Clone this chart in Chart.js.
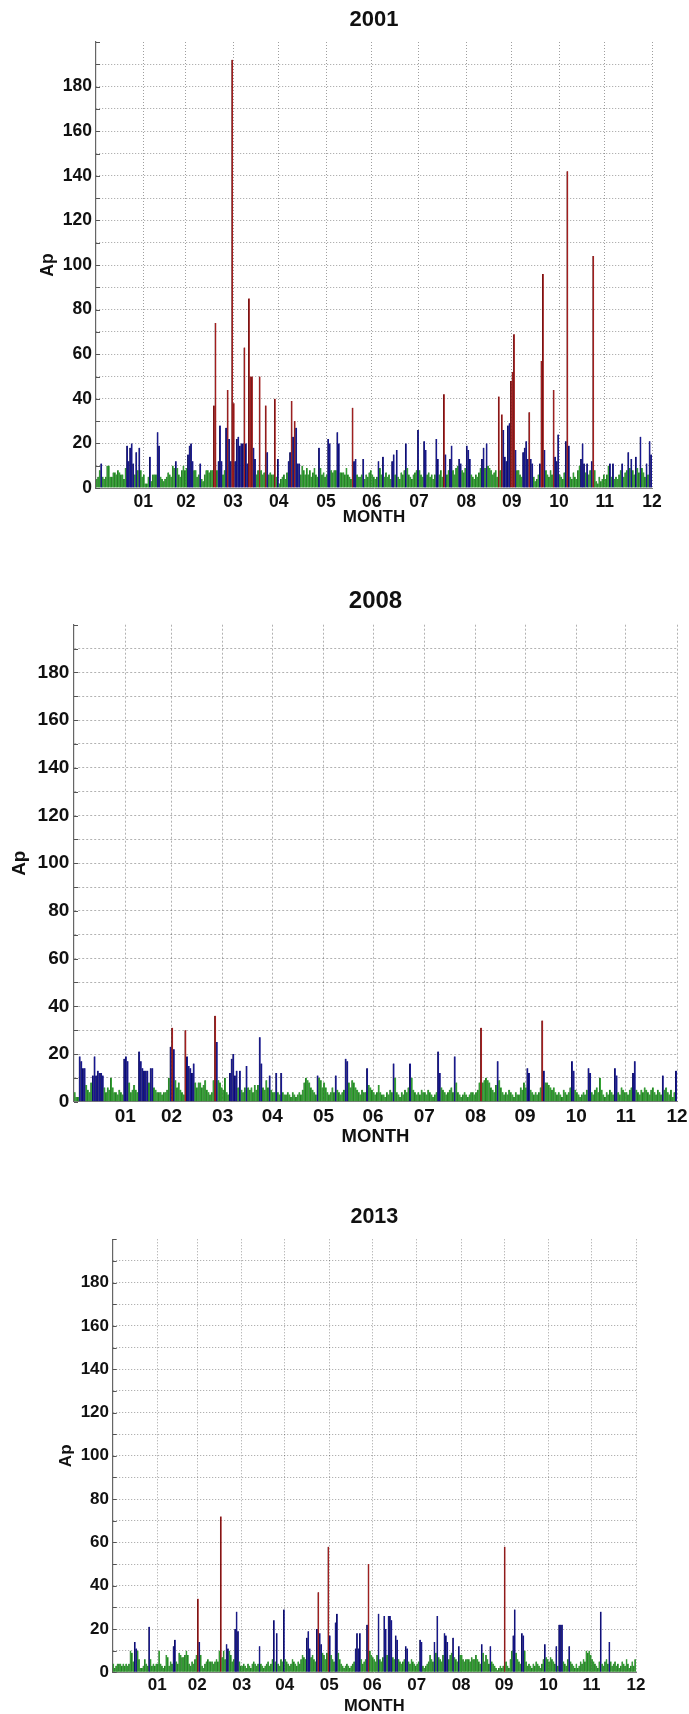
<!DOCTYPE html>
<html>
<head>
<meta charset="utf-8">
<title>Daily Ap 2001 / 2008 / 2013</title>
<script src="https://cdn.jsdelivr.net/npm/chart.js@4.4.1/dist/chart.umd.min.js"></script>
<style>
  html, body { margin: 0; padding: 0; background: #fff; }
  body { width: 689px; height: 1714px; position: relative; overflow: hidden; }
  canvas { position: absolute; left: 0; }
</style>
</head>
<body>
<canvas id="chart2001" width="689" height="530" style="top:0px"></canvas>
<canvas id="chart2008" width="689" height="590" style="top:560px"></canvas>
<canvas id="chart2013" width="689" height="544" style="top:1170px"></canvas>
<script>
// daily Ap index, Jan 1 .. Dec 31, one line per month
const ap2001 = [
  4, 5, 8, 11, 5, 4, 5, 10, 10, 5, 5, 7, 7, 6, 8, 7, 6, 6, 4, 9, 19, 12, 18, 20, 11, 6, 16, 8, 18, 8, 5,
  6, 2, 2, 5, 14, 3, 6, 6, 6, 25, 19, 5, 4, 3, 4, 5, 7, 6, 5, 10, 9, 12, 9, 6, 5, 8, 10, 8,
  9, 15, 19, 20, 12, 8, 8, 5, 6, 11, 4, 3, 6, 8, 8, 7, 8, 8, 37, 74, 8, 12, 28, 12, 6, 8, 27, 44, 22, 12, 192,
  38, 12, 22, 23, 19, 20, 20, 63, 20, 11, 85, 50, 50, 18, 13, 6, 8, 50, 8, 6, 7, 37, 16, 6, 7, 6, 6, 40, 5, 13,
  2, 4, 5, 6, 4, 7, 12, 16, 39, 23, 30, 27, 11, 11, 6, 10, 8, 6, 9, 6, 8, 5, 7, 9, 6, 5, 18, 9, 6, 7, 5,
  6, 22, 20, 8, 7, 8, 8, 25, 20, 7, 7, 7, 6, 9, 6, 5, 4, 36, 12, 13, 6, 5, 5, 6, 13, 4, 6, 5, 7, 8,
  6, 5, 4, 5, 12, 9, 6, 14, 5, 7, 5, 6, 4, 12, 15, 6, 17, 5, 4, 7, 6, 8, 20, 9, 6, 5, 4, 6, 7, 8, 26,
  8, 6, 5, 21, 17, 6, 7, 5, 6, 4, 6, 22, 13, 6, 8, 5, 42, 15, 6, 8, 13, 19, 8, 6, 9, 10, 13, 11, 8, 7, 9,
  19, 17, 13, 6, 5, 4, 6, 5, 7, 9, 13, 18, 9, 20, 10, 9, 8, 6, 7, 8, 5, 41, 8, 33, 26, 14, 12, 28, 29, 48,
  52, 69, 17, 8, 8, 6, 5, 16, 18, 21, 13, 34, 13, 11, 5, 3, 4, 6, 11, 57, 96, 17, 8, 6, 5, 8, 6, 44, 14, 12, 24,
  6, 5, 4, 7, 21, 142, 19, 5, 4, 7, 5, 4, 8, 10, 13, 20, 11, 7, 11, 6, 8, 12, 104, 8, 3, 2, 5, 3, 4, 6,
  4, 6, 10, 11, 5, 11, 4, 5, 4, 6, 8, 11, 5, 7, 8, 16, 9, 13, 8, 6, 14, 9, 7, 23, 9, 7, 5, 11, 6, 21, 15
]

const ap2008 = [
  4, 2, 2, 19, 17, 14, 14, 7, 5, 4, 8, 11, 19, 11, 13, 12, 12, 11, 6, 4, 6, 5, 10, 6, 4, 4, 3, 5, 4, 3, 18,
  19, 17, 8, 4, 5, 7, 5, 4, 21, 17, 14, 13, 13, 13, 8, 14, 14, 6, 5, 4, 4, 4, 3, 4, 4, 5, 10, 23,
  31, 22, 9, 6, 8, 5, 4, 3, 30, 19, 15, 14, 12, 16, 8, 6, 8, 8, 6, 7, 9, 5, 4, 3, 4, 9, 36, 25, 9, 8, 6,
  5, 10, 4, 3, 12, 18, 20, 11, 13, 6, 13, 5, 4, 6, 15, 6, 5, 6, 4, 7, 5, 7, 27, 16, 6, 5, 9, 6, 11, 5,
  4, 4, 12, 4, 3, 12, 4, 3, 3, 4, 3, 2, 4, 3, 2, 3, 4, 3, 5, 8, 10, 9, 8, 6, 5, 4, 3, 11, 10, 9, 6,
  8, 6, 4, 3, 4, 6, 4, 11, 5, 4, 3, 4, 5, 18, 17, 8, 6, 9, 8, 6, 5, 4, 3, 5, 4, 4, 14, 7, 6, 5,
  4, 3, 4, 7, 4, 3, 3, 2, 4, 3, 5, 4, 16, 10, 4, 3, 2, 4, 3, 5, 4, 6, 16, 10, 5, 4, 3, 4, 3, 5, 4,
  4, 3, 5, 4, 3, 2, 3, 4, 21, 12, 6, 5, 4, 3, 4, 5, 6, 4, 19, 8, 4, 3, 2, 3, 4, 3, 2, 3, 4, 4, 3,
  4, 5, 8, 31, 8, 9, 10, 9, 8, 6, 5, 4, 7, 17, 9, 6, 4, 3, 4, 3, 5, 4, 3, 2, 4, 3, 3, 6, 5, 8,
  6, 14, 12, 5, 4, 3, 4, 3, 4, 6, 34, 13, 8, 8, 7, 6, 5, 6, 4, 3, 4, 3, 2, 5, 4, 3, 4, 6, 17, 13, 5,
  4, 3, 2, 3, 4, 3, 5, 14, 12, 4, 3, 5, 6, 4, 10, 5, 3, 2, 4, 3, 5, 4, 3, 14, 11, 4, 3, 6, 5, 4,
  4, 3, 5, 6, 12, 17, 5, 4, 3, 5, 4, 6, 5, 4, 3, 5, 6, 4, 3, 5, 4, 3, 11, 5, 6, 4, 3, 5, 2, 4, 13
]

const ap2013 = [
  4, 2, 3, 4, 4, 4, 3, 4, 3, 4, 3, 4, 10, 9, 5, 14, 11, 10, 6, 2, 2, 3, 6, 4, 3, 21, 6, 3, 4, 3, 4,
  4, 10, 4, 3, 2, 3, 8, 7, 3, 5, 4, 12, 15, 5, 4, 9, 8, 7, 7, 8, 10, 8, 4, 3, 5, 4, 6, 8,
  34, 14, 8, 3, 2, 4, 5, 6, 5, 5, 5, 4, 5, 6, 5, 10, 72, 7, 10, 6, 13, 11, 10, 8, 5, 6, 20, 28, 19, 5, 3,
  3, 4, 3, 2, 4, 3, 2, 4, 5, 4, 3, 4, 12, 4, 3, 2, 3, 4, 5, 3, 4, 6, 24, 5, 18, 4, 3, 6, 5, 29,
  6, 5, 4, 3, 4, 6, 5, 4, 3, 5, 4, 6, 8, 7, 6, 16, 19, 11, 7, 8, 6, 5, 20, 37, 18, 13, 9, 8, 6, 9, 58,
  17, 8, 6, 5, 23, 27, 9, 6, 4, 3, 2, 3, 4, 3, 2, 3, 4, 5, 11, 18, 11, 18, 6, 4, 5, 6, 22, 50, 10, 8,
  7, 6, 5, 8, 27, 6, 5, 7, 26, 20, 8, 26, 26, 24, 7, 6, 17, 15, 6, 5, 4, 5, 6, 12, 11, 5, 4, 6, 5, 4, 3,
  4, 5, 15, 14, 3, 2, 3, 4, 5, 8, 6, 5, 14, 9, 26, 7, 6, 5, 8, 18, 17, 14, 6, 8, 9, 16, 7, 6, 5, 12, 8,
  8, 6, 5, 6, 6, 6, 5, 7, 6, 6, 8, 6, 5, 4, 13, 9, 5, 8, 6, 4, 12, 5, 4, 3, 2, 1, 2, 3, 2, 3,
  58, 5, 3, 2, 6, 10, 17, 29, 9, 6, 5, 4, 18, 17, 10, 5, 3, 4, 3, 2, 4, 3, 5, 4, 3, 2, 4, 6, 13, 7, 6,
  5, 7, 6, 5, 4, 12, 3, 22, 22, 22, 5, 4, 3, 6, 12, 5, 4, 3, 2, 4, 2, 3, 5, 4, 6, 5, 10, 9, 10, 8,
  6, 5, 4, 3, 2, 5, 28, 4, 3, 5, 6, 4, 14, 5, 3, 4, 5, 3, 4, 2, 3, 5, 4, 3, 6, 4, 2, 3, 5, 3, 6
]

// x ticks sit at the end of each month (day of year)
const monthEnds = [31, 59, 90, 120, 151, 181, 212, 243, 273, 304, 334, 365]
const monthLabels = ['01', '02', '03', '04', '05', '06', '07', '08', '09', '10', '11', '12']

// y grid every 10, labels every 20
const apGrid = [0, 10, 20, 30, 40, 50, 60, 70, 80, 90, 100, 110, 120, 130, 140, 150, 160, 170, 180, 190, 200]
const apLabels = ['0', '', '20', '', '40', '', '60', '', '80', '', '100', '', '120', '', '140', '', '160', '', '180', '', '']

const FONT = "'Liberation Sans', Arial, Helvetica, sans-serif"

function barColor (value) {
  if (value >= 30) return '#a31e1e' // storm
  if (value > 10) return '#17178f'  // active
  return '#33a133'                  // quiet
}

function edgeColor (value) {
  if (value >= 30) return '#4a0c0c'
  if (value > 10) return '#05053d'
  return '#1b5a1b'
}

// small ticks pointing into the plot on the Ap axis
const inwardTicks = {
  id: 'inwardTicks',
  beforeDatasetsDraw (chart) {
    const { ctx, chartArea, scales: { y } } = chart
    ctx.save()
    ctx.strokeStyle = '#555'
    ctx.lineWidth = 1
    ctx.beginPath()
    for (const tick of y.ticks) {
      const py = Math.round(y.getPixelForValue(tick.value)) + 0.5
      ctx.moveTo(chartArea.left, py)
      ctx.lineTo(chartArea.left + 4, py)
    }
    ctx.stroke()
    ctx.restore()
  }
}

function drawYear (canvasId, year, values, box) {
  const ctx = document.getElementById(canvasId).getContext('2d')
  const gridColor = (c) => {
    if (c.tick && (c.tick.value === 0 || c.tick.value === 200)) return 'rgba(0,0,0,0)'
    return box.gridColor
  }

  return new Chart(ctx, {
    type: 'bar',
    data: {
      datasets: [{
        data: values.map((v, i) => ({ x: i + 0.5, y: v })),
        backgroundColor: values.map(barColor),
        borderColor: values.map(edgeColor),
        borderWidth: { left: 0.5, right: 0, top: 0, bottom: 0 },
        borderSkipped: false,
        barPercentage: 1,
        categoryPercentage: 1
      }]
    },
    plugins: [inwardTicks],
    options: {
      responsive: false,
      animation: false,
      events: [],
      layout: { padding: { left: 0, top: 0, right: box.padRight, bottom: 0 } },
      plugins: {
        legend: { display: false },
        tooltip: { enabled: false },
        title: {
          display: true,
          text: year,
          fullSize: false,
          color: '#111',
          font: { family: FONT, size: box.titleSize, weight: 'bold', lineHeight: 1.2 },
          padding: { top: box.titleTop, bottom: box.titleBottom }
        }
      },
      scales: {
        x: {
          type: 'linear',
          min: 0,
          max: 365,
          offset: false,
          grid: { offset: false, color: gridColor, lineWidth: 1, drawTicks: false },
          border: { display: true, color: '#808080', width: 1, dash: box.dash },
          afterBuildTicks: (axis) => { axis.ticks = monthEnds.map((value) => ({ value })) },
          afterFit: (axis) => {
            axis.height = box.xHeight
            axis.paddingLeft = 0
            axis.paddingRight = 0
          },
          ticks: {
            autoSkip: false,
            maxRotation: 0,
            minRotation: 0,
            padding: box.xTickPad,
            color: '#111',
            font: { family: FONT, size: box.tickSize, weight: 'bold', lineHeight: 1.2 },
            callback: (value, index) => monthLabels[index]
          },
          title: {
            display: true,
            text: 'MONTH',
            color: '#111',
            font: { family: FONT, size: box.monthSize, weight: 'bold', lineHeight: box.monthLine },
            padding: { top: 0, bottom: box.monthPad }
          }
        },
        y: {
          type: 'linear',
          min: 0,
          max: 200,
          grid: { color: gridColor, lineWidth: 1, drawTicks: false },
          border: { display: true, color: '#666', width: 1.2, dash: box.dash },
          afterBuildTicks: (axis) => { axis.ticks = apGrid.map((value) => ({ value })) },
          afterFit: (axis) => {
            axis.width = box.left
            axis.paddingTop = 0
            axis.paddingBottom = 0
          },
          ticks: {
            autoSkip: false,
            padding: box.yTickPad,
            color: '#111',
            font: { family: FONT, size: box.tickSize, weight: 'bold', lineHeight: 1.2 },
            callback: (value, index) => apLabels[index]
          },
          title: {
            display: true,
            text: 'Ap',
            color: '#111',
            font: { family: FONT, size: box.apSize, weight: 'bold', lineHeight: 1.2 },
            padding: { top: box.apPad, bottom: 0 }
          }
        }
      }
    }
  })
}

drawYear('chart2001', '2001', ap2001, {
  left: 96, padRight: 37,
  titleSize: 22, titleTop: 6.8, titleBottom: 8.8,
  tickSize: 17.5, yTickPad: 4, xTickPad: 3.5,
  apSize: 17.5, apPad: 38.1,
  xHeight: 42, monthSize: 17, monthLine: 1.2, monthPad: 2.8,
  gridColor: 'rgba(0,0,0,0.38)', dash: [1, 2]
})

drawYear('chart2008', '2008', ap2008, {
  left: 74, padRight: 12,
  titleSize: 24, titleTop: 26.6, titleBottom: 9.3,
  tickSize: 19, yTickPad: 4.7, xTickPad: 3.9,
  apSize: 19, apPad: 8.6,
  xHeight: 48.3, monthSize: 18.5, monthLine: 1.2, monthPad: 1.9,
  gridColor: 'rgba(0,0,0,0.3)', dash: [2, 2]
})

drawYear('chart2013', '2013', ap2013, {
  left: 112.7, padRight: 53,
  titleSize: 21.5, titleTop: 34.1, titleBottom: 9.4,
  tickSize: 17, yTickPad: 3.7, xTickPad: 3.2,
  apSize: 17, apPad: 55.8,
  xHeight: 41.7, monthSize: 16.5, monthLine: 0.9, monthPad: 0.2,
  gridColor: 'rgba(0,0,0,0.38)', dash: [1, 2]
})
</script>
</body>
</html>
